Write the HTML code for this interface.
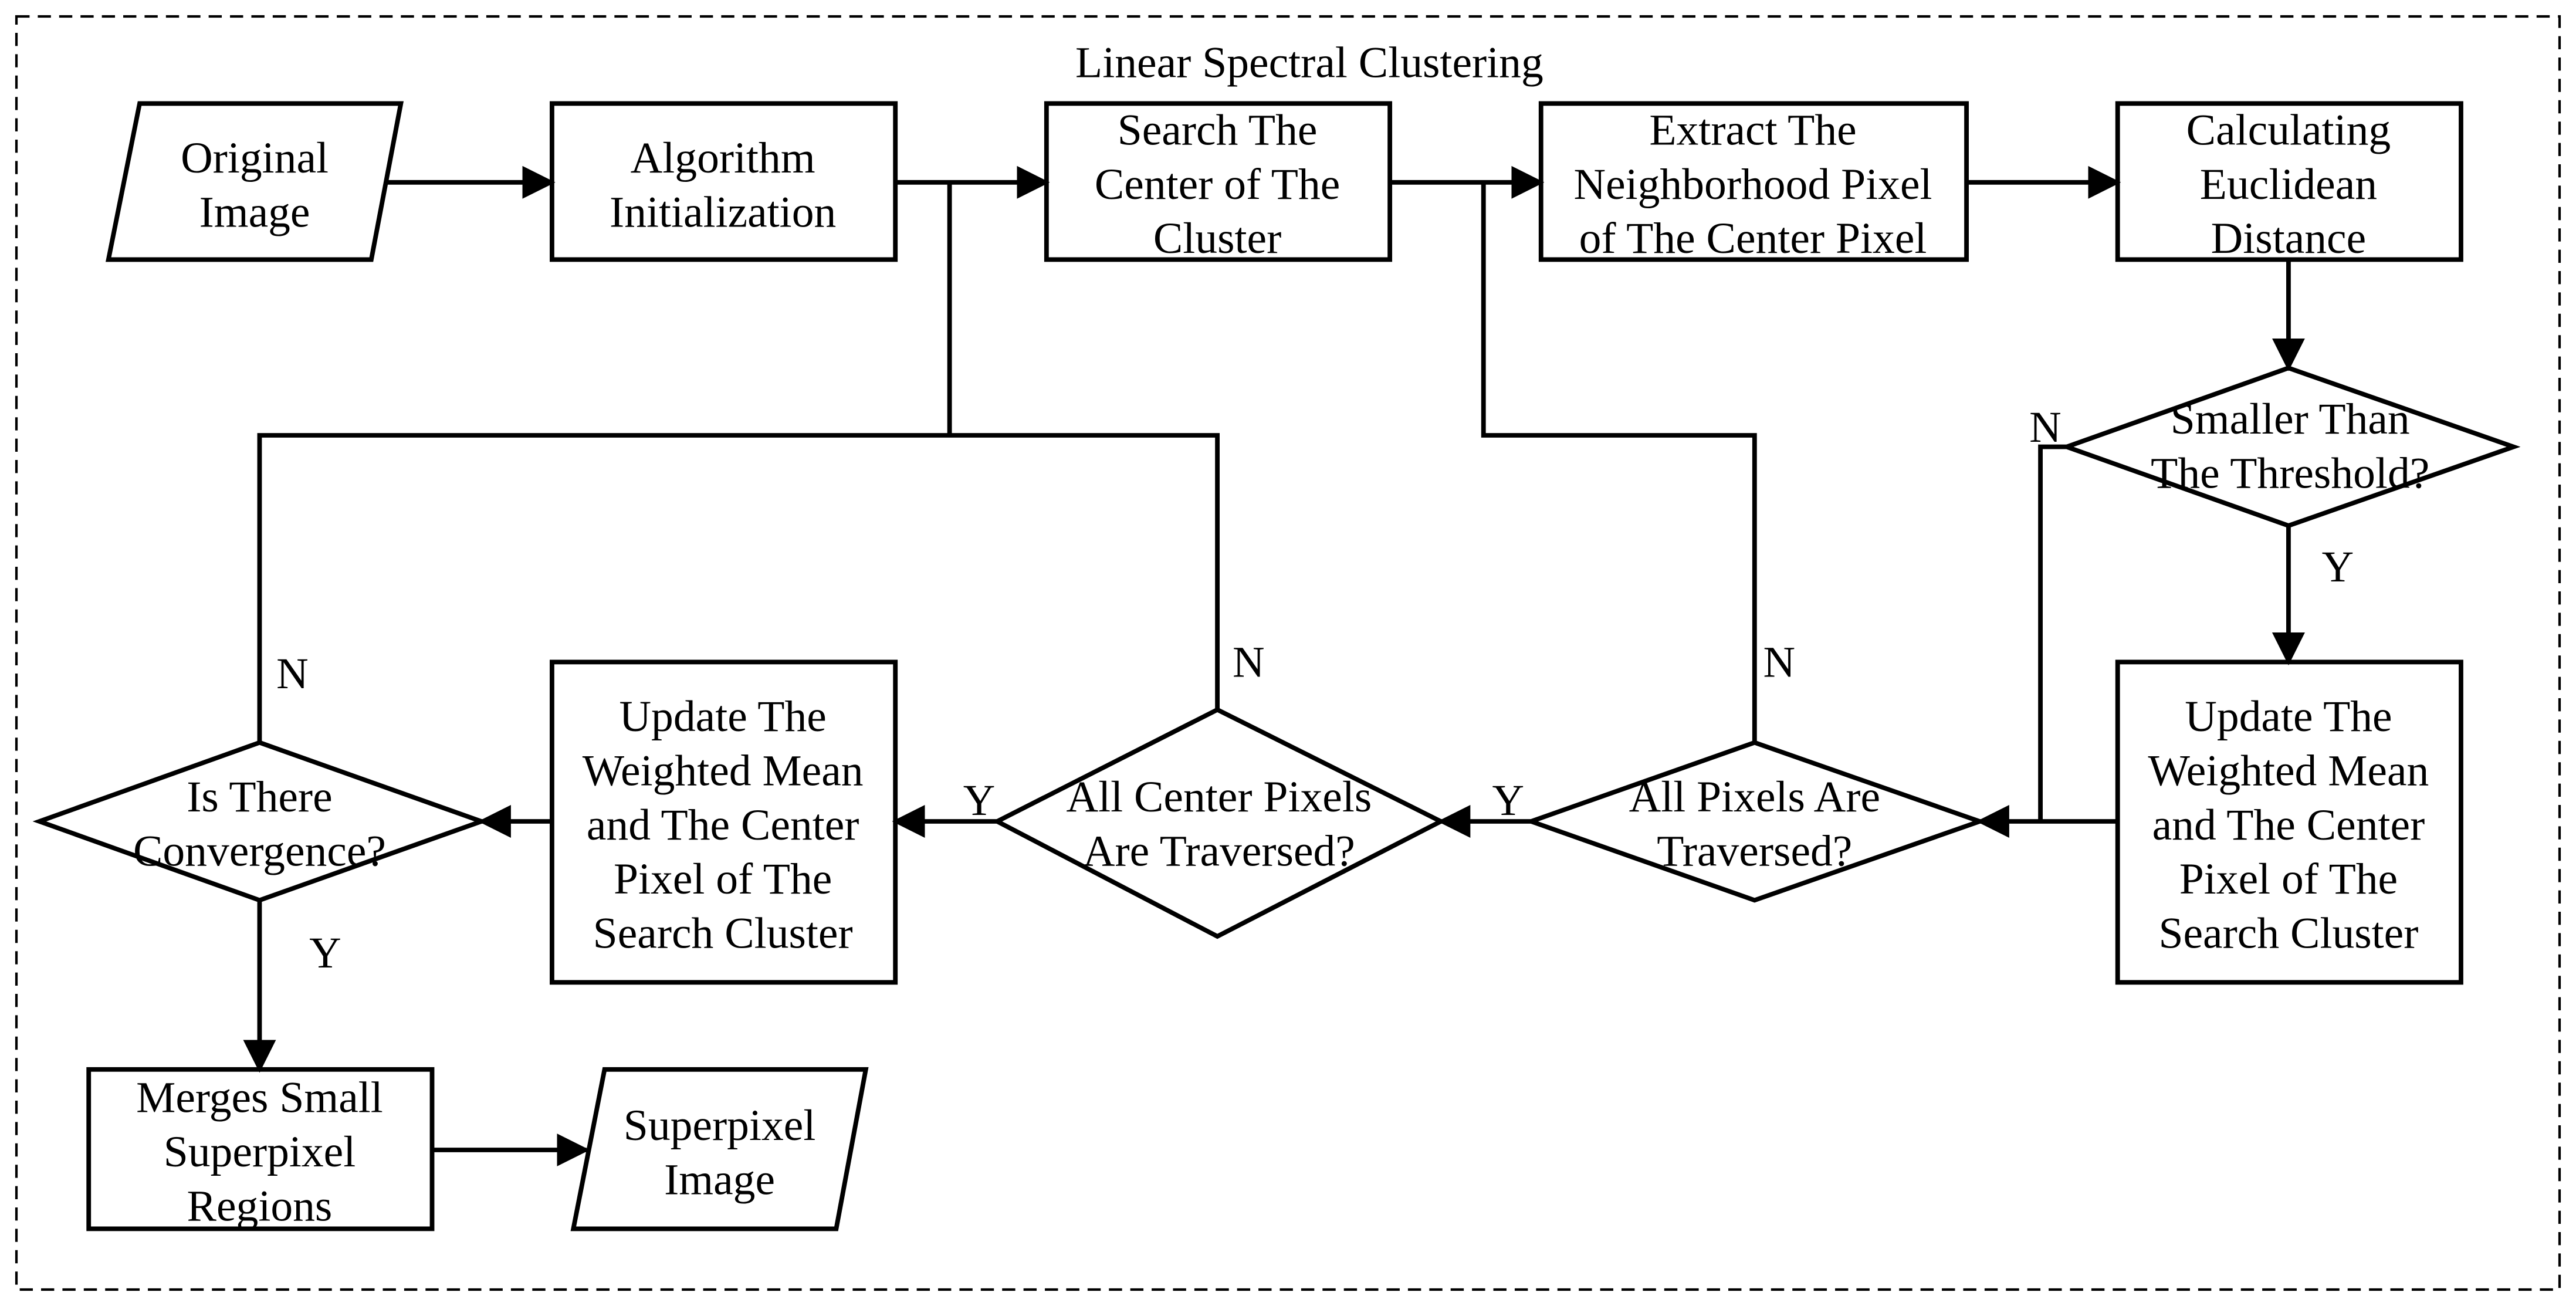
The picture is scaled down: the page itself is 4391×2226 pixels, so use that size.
<!DOCTYPE html>
<html><head><meta charset="utf-8"><style>
html,body{margin:0;padding:0;background:#fff;}
svg{display:block;}
text{font-family:"Liberation Serif","Times New Roman",serif;font-size:27px;fill:#000;text-anchor:middle;}
</style></head><body>
<svg width="4391" height="2226" viewBox="0 0 1568 795" preserveAspectRatio="none" xmlns="http://www.w3.org/2000/svg">
<defs>
<marker id="a" markerWidth="10" markerHeight="10" refX="9" refY="5" orient="auto" markerUnits="userSpaceOnUse" viewBox="0 0 10 10">
<path d="M0,0 L10,5 L0,10 Z" fill="#000"/></marker>
<marker id="b" markerWidth="20" markerHeight="20" refX="18" refY="10" orient="auto" markerUnits="userSpaceOnUse" viewBox="0 0 20 20">
<path d="M0,0 L20,10 L0,20 Z" fill="#000"/></marker>
</defs>
<rect x="10" y="10" width="1548" height="775" fill="none" stroke="#000" stroke-width="1.5" stroke-dasharray="8,5"/>
<text x="797" y="47">Linear Spectral Clustering</text>
<g fill="none" stroke="#000" stroke-width="2.8">
<polygon points="85,63 244,63 226,158 66,158"/>
<rect x="336" y="63" width="209" height="95"/>
<rect x="637" y="63" width="209" height="95"/>
<rect x="938" y="63" width="259" height="95"/>
<rect x="1289" y="63" width="209" height="95"/>
<polygon points="1393,224 1530,272 1393,320 1258,272"/>
<rect x="1289" y="403" width="209" height="195"/>
<polygon points="1068,452 1205,500 1068,548 932,500"/>
<polygon points="741,432 877,500 741,570 607,500"/>
<rect x="336" y="403" width="209" height="195"/>
<polygon points="158,452 293,500 158,548 24,500"/>
<rect x="54" y="651" width="209" height="97"/>
<polygon points="368,651 527,651 509,748 349,748"/>
<line x1="235" y1="111" x2="336" y2="111" marker-end="url(#b)"/>
<line x1="545" y1="111" x2="637" y2="111" marker-end="url(#b)"/>
<line x1="846" y1="111" x2="938" y2="111" marker-end="url(#b)"/>
<line x1="1197" y1="111" x2="1289" y2="111" marker-end="url(#b)"/>
<line x1="1393" y1="158" x2="1393" y2="224" marker-end="url(#b)"/>
<line x1="1393" y1="320" x2="1393" y2="403" marker-end="url(#b)"/>
<line x1="1289" y1="500" x2="1205" y2="500" marker-end="url(#b)"/>
<polyline points="1258,272 1242,272 1242,500"/>
<polyline points="1068,452 1068,265 903,265 903,111"/>
<line x1="932" y1="500" x2="877" y2="500" marker-end="url(#b)"/>
<polyline points="741,432 741,265 158,265 158,452"/>
<line x1="578" y1="111" x2="578" y2="265"/>
<line x1="607" y1="500" x2="545" y2="500" marker-end="url(#b)"/>
<line x1="336" y1="500" x2="293" y2="500" marker-end="url(#b)"/>
<line x1="158" y1="548" x2="158" y2="651" marker-end="url(#b)"/>
<line x1="263" y1="700" x2="357" y2="700" marker-end="url(#b)"/>
</g>
<text x="155" y="105">Original</text><text x="155" y="138">Image</text>
<text x="440" y="105">Algorithm</text><text x="440" y="138">Initialization</text>
<text x="741" y="88">Search The</text><text x="741" y="121">Center of The</text><text x="741" y="154">Cluster</text>
<text x="1067" y="88">Extract The</text><text x="1067" y="121">Neighborhood Pixel</text><text x="1067" y="154">of The Center Pixel</text>
<text x="1393" y="88">Calculating</text><text x="1393" y="121">Euclidean</text><text x="1393" y="154">Distance</text>
<text x="1394" y="264">Smaller Than</text><text x="1394" y="297">The Threshold?</text>
<text x="1393" y="445">Update The</text><text x="1393" y="478">Weighted Mean</text><text x="1393" y="511">and The Center</text><text x="1393" y="544">Pixel of The</text><text x="1393" y="577">Search Cluster</text>
<text x="1068" y="494">All Pixels Are</text><text x="1068" y="527">Traversed?</text>
<text x="742" y="494">All Center Pixels</text><text x="742" y="527">Are Traversed?</text>
<text x="440" y="445">Update The</text><text x="440" y="478">Weighted Mean</text><text x="440" y="511">and The Center</text><text x="440" y="544">Pixel of The</text><text x="440" y="577">Search Cluster</text>
<text x="158" y="494">Is There</text><text x="158" y="527">Convergence?</text>
<text x="158" y="677">Merges Small</text><text x="158" y="710">Superpixel</text><text x="158" y="743">Regions</text>
<text x="438" y="694">Superpixel</text><text x="438" y="727">Image</text>
<text x="1245" y="269">N</text>
<text x="1423" y="354">Y</text>
<text x="1083" y="412">N</text>
<text x="918" y="496">Y</text>
<text x="760" y="412">N</text>
<text x="596" y="496">Y</text>
<text x="178" y="419">N</text>
<text x="198" y="589">Y</text>
</svg>
</body></html>
